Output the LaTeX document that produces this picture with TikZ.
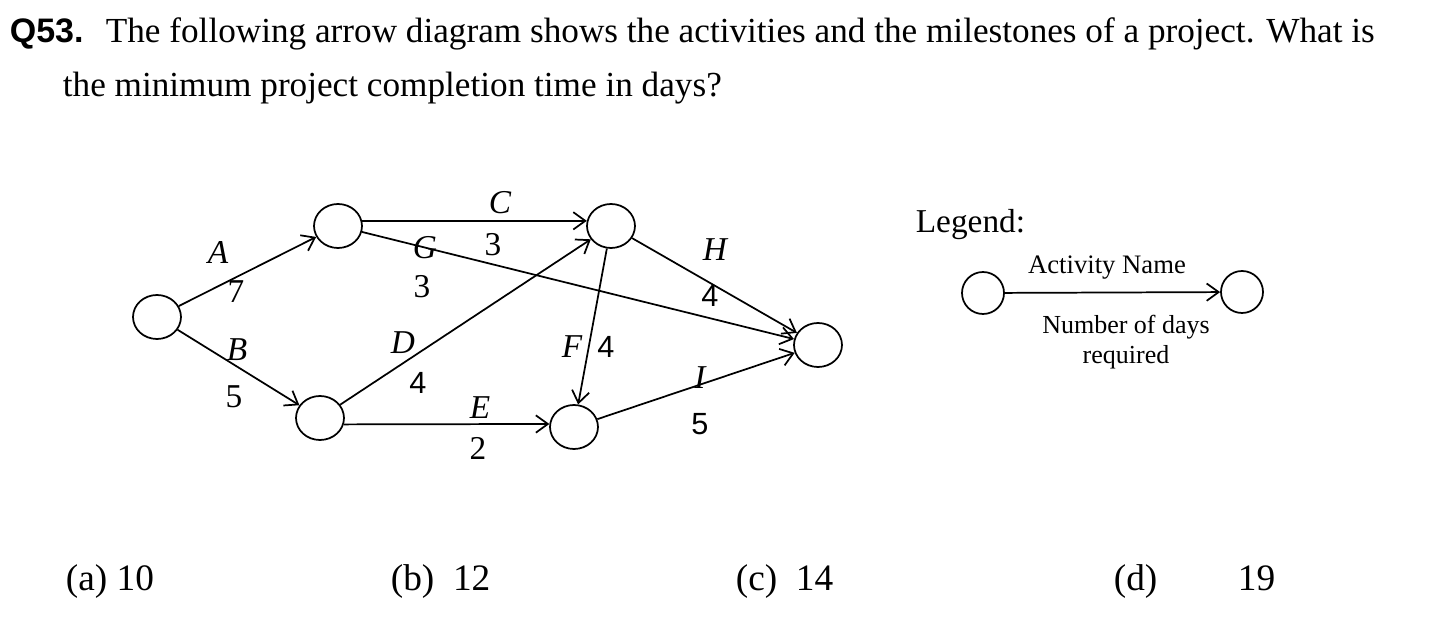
\documentclass[tikz,border=0pt]{standalone}
\usepackage{fontspec}
\setmainfont{Liberation Serif}
\setsansfont{Liberation Sans}
\usetikzlibrary{shapes.geometric,arrows.meta,positioning}

\begin{document}
\begin{tikzpicture}[x=0.75pt,y=-0.75pt,line width=1.3pt,
    >={Straight Barb[length=9pt,width=13pt]},
    event/.style={draw,ellipse,minimum width=36pt,minimum height=33pt,inner sep=0pt},
    act/.style={inner sep=0pt,font=\fontsize{25}{29}\selectfont\itshape},
    dur/.style={inner sep=0pt,font=\fontsize{25}{29}\selectfont},
    durs/.style={inner sep=0pt,font=\fontsize{23}{28}\selectfont\sffamily},
    txt/.style={inner sep=0pt,anchor=base west,font=\fontsize{26.4}{32}\selectfont}]
    \useasboundingbox (0,0) rectangle (1450,630);
           % question
           \node[txt,font=\fontsize{25.5}{32}\selectfont\sffamily\bfseries] (qno) at (9,43) {Q53.};
           \node[txt] (q1) at (105,43) {The following arrow diagram shows the activities and the milestones of a project. What is};
           \node[txt] (q2) at (62,97) {the minimum project completion time in days?};
           % events
           \node[event] (e1) at (157,317) {};
           \node[event] (e2) at (338,226) {};
           \node[event] (e3) at (320,418) {};
           \node[event] (e4) at (611,226) {};
           \node[event] (e5) at (574,427) {};
           \node[event] (e6) at (818,345) {};
           \path[->]
            (e1) edge (e2)
            (e1) edge (e3)
            (e2.12) edge (e4.168)
            (e2) edge (e6)
            (e3) edge (e4)
            (e3.-15) edge (e5.173)
            (e4) edge (e5)
            (e4) edge (e6)
            (e5) edge (e6);
           % activity labels
           \node[act] (lA) at (218,253) {A};
           \node[dur] (dA) at (236,292) {7};
           \node[act] (lB) at (237,350) {B};
           \node[dur] (dB) at (234,397) {5};
           \node[act] (lC) at (500,203) {C};
           \node[dur] (dC) at (493,245) {3};
           \node[act] (lG) at (425,248) {G};
           \node[dur] (dG) at (422,287) {3};
           \node[act] (lD) at (403,343) {D};
           \node[durs] (dD) at (418,383) {4};
           \node[act] (lE) at (480,408) {E};
           \node[dur] (dE) at (478,448) {2};
           \node[act] (lF) at (572,347) {F};
           \node[durs] (dF) at (606,347) {4};
           \node[act] (lH) at (715,250) {H};
           \node[durs] (dH) at (710,296) {4};
           \node[act] (lI) at (700,378) {I};
           \node[durs] (dI) at (700,424) {5};
           % legend
           \node[txt,font=\fontsize{25}{30}\selectfont] (leg) at (915,233) {Legend:};
           \node[draw,circle,minimum size=31.5pt,inner sep=0pt] (g1) at (983,293) {};
           \node[draw,circle,minimum size=31.5pt,inner sep=0pt] (g2) at (1242,292) {};
           \draw[->] (g1) -- (g2);
           \node[inner sep=0pt,font=\fontsize{20}{23}\selectfont] (gname) at (1107,268) {Activity Name};
           \node[inner sep=0pt,font=\fontsize{19.5}{22}\selectfont,align=center] (gdays) at (1126,342) {Number of days\\required};
           % answers
           \node[txt,font=\fontsize{28}{32}\selectfont] (oa) at (65,590) {(a) 10};
           \node[txt,font=\fontsize{28}{32}\selectfont] (ob) at (390,590) {(b)\ \ 12};
           \node[txt,font=\fontsize{28}{32}\selectfont] (oc) at (735,590) {(c)\ \ 14};
           \node[txt,font=\fontsize{28}{32}\selectfont] (od) at (1113,590) {(d)};
           \node[txt,font=\fontsize{28}{32}\selectfont] (od2) at (1237,590) {19};
        \end{tikzpicture}
\end{document}
